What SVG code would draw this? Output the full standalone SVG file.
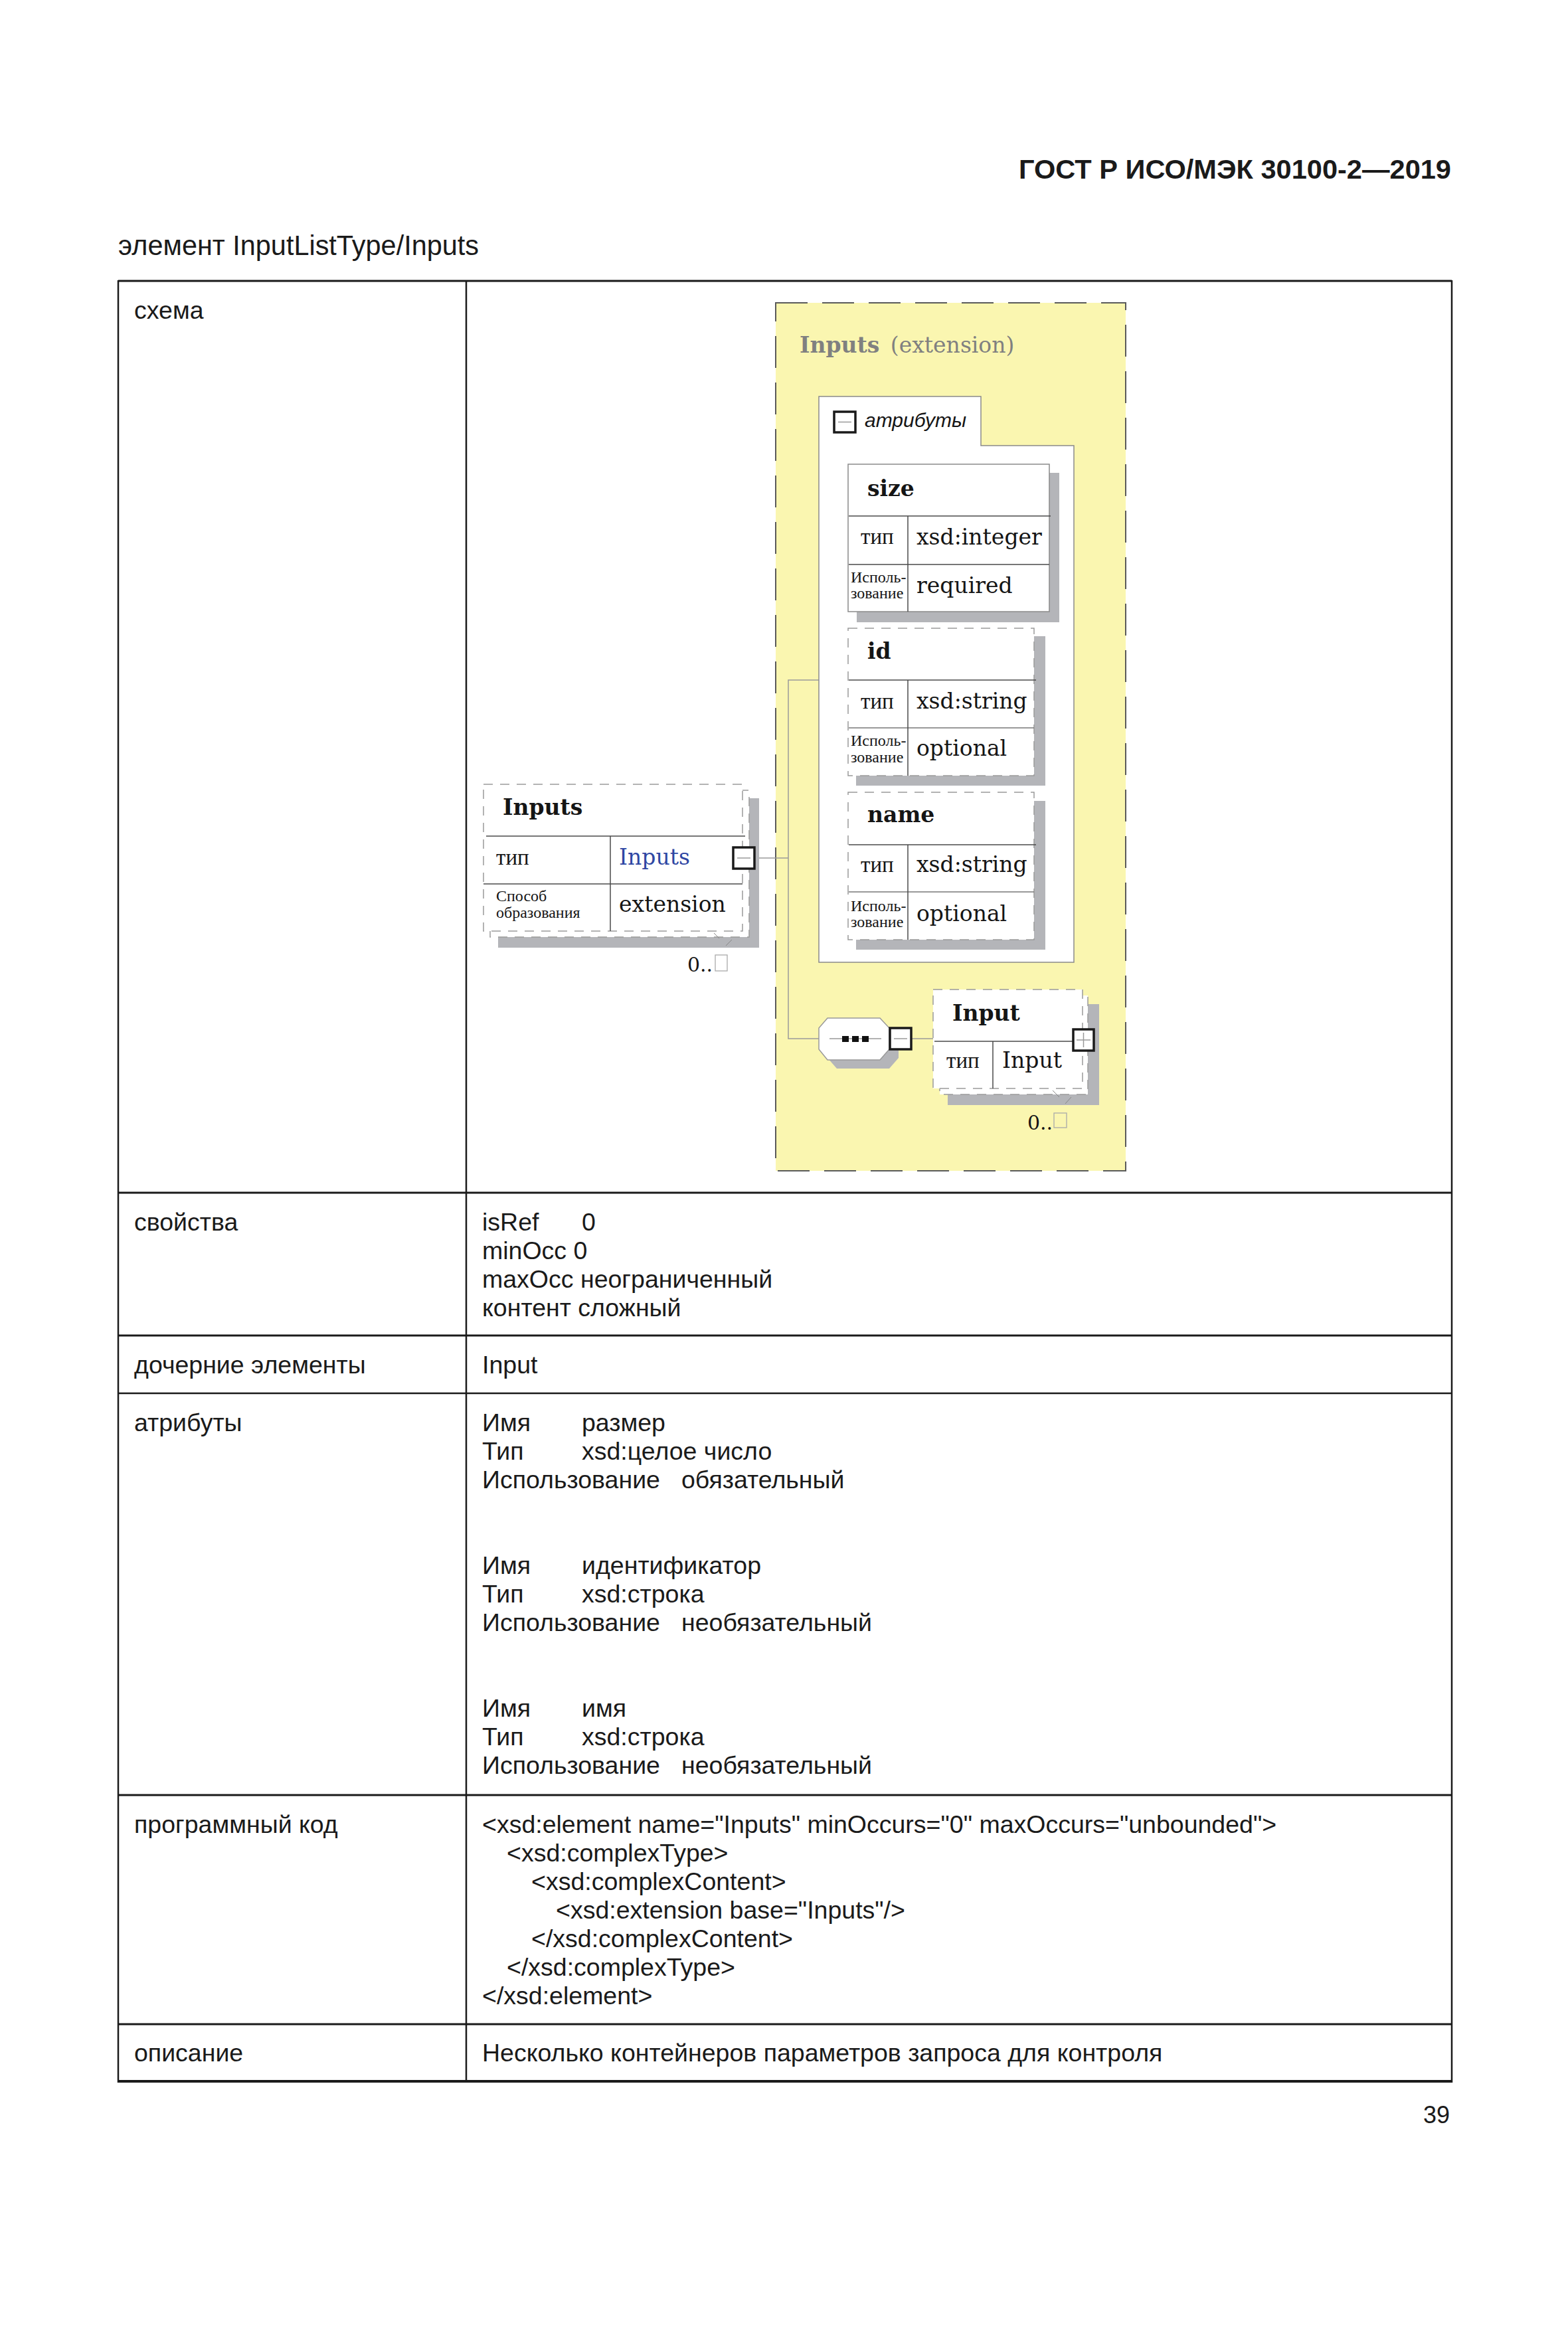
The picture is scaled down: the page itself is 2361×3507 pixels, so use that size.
<svg xmlns="http://www.w3.org/2000/svg" width="2361" height="3507" viewBox="0 0 2361 3507">
<style>
.tb{font-family:"Liberation Sans",Arial,sans-serif;font-size:37.5px;fill:#1a1a1a}
.dl{font-family:"DejaVu Serif","Liberation Serif",serif;font-size:33px;fill:#151515}
.db{font-family:"DejaVu Serif","Liberation Serif",serif;font-size:33px;font-weight:bold;fill:#151515}
.cy{font-family:"Liberation Serif",serif;font-size:33px;fill:#151515}
.cs{font-family:"Liberation Serif",serif;font-size:24px;fill:#151515}
.sh{fill:#b4b5b9}
.dash{fill:#fff;stroke:#9a9a9a;stroke-width:1.5;stroke-dasharray:14 11}
.solid{fill:#fff;stroke:#8a8a8a;stroke-width:1.5}
.div{stroke:#4a4a4a;stroke-width:1.5;fill:none}
.cb{fill:#fff;stroke:#1a1a1a;stroke-width:3.5}
.cbl{stroke:#999;stroke-width:1.5;fill:none}
.con{stroke:#9a9a9a;stroke-width:1.5;fill:none}
.tofu{fill:none;stroke:#aaa;stroke-width:1.3}
.tl{stroke:#1a1a1a;stroke-width:2.5;fill:none}
.mark{stroke:#888;stroke-width:1;fill:none}
.occ{font-family:"DejaVu Serif","Liberation Serif",serif;font-size:30px;fill:#151515}
</style>

<!-- page header -->
<text class="tb" x="1534" y="269" style="font-size:40px;font-weight:bold" textLength="651" lengthAdjust="spacingAndGlyphs">ГОСТ Р ИСО/МЭК 30100-2—2019</text>
<text class="tb" x="178" y="384" style="font-size:42px" textLength="543" lengthAdjust="spacingAndGlyphs">элемент InputListType/Inputs</text>

<!-- table -->
<g id="table">
<line class="tl" x1="178" y1="423" x2="2186" y2="423" style="stroke-width:3"/>
<line class="tl" x1="178" y1="1796" x2="2186" y2="1796" style="stroke-width:3"/>
<line class="tl" x1="178" y1="2011" x2="2186" y2="2011" style="stroke-width:3"/>
<line class="tl" x1="178" y1="2098" x2="2186" y2="2098"/>
<line class="tl" x1="178" y1="2703" x2="2186" y2="2703" style="stroke-width:3"/>
<line class="tl" x1="178" y1="3048" x2="2186" y2="3048" style="stroke-width:3"/>
<line class="tl" x1="178" y1="3134" x2="2186" y2="3134" style="stroke-width:4"/>
<line class="tl" x1="178" y1="422" x2="178" y2="3136"/>
<line class="tl" x1="702" y1="422" x2="702" y2="3136"/>
<line class="tl" x1="2186" y1="422" x2="2186" y2="3136"/>

<text class="tb" x="202" y="480">схема</text>
<text class="tb" x="202" y="1853">свойства</text>
<text class="tb" x="726" y="1853">isRef</text>
<text class="tb" x="876" y="1853">0</text>
<text class="tb" x="726" y="1896">minOcc 0</text>
<text class="tb" x="726" y="1939">maxOcc неограниченный</text>
<text class="tb" x="726" y="1982">контент сложный</text>

<text class="tb" x="202" y="2068">дочерние элементы</text>
<text class="tb" x="726" y="2068">Input</text>

<text class="tb" x="202" y="2155">атрибуты</text>
<text class="tb" x="726" y="2155">Имя</text><text class="tb" x="876" y="2155">размер</text>
<text class="tb" x="726" y="2198">Тип</text><text class="tb" x="876" y="2198">xsd:целое число</text>
<text class="tb" x="726" y="2241">Использование</text><text class="tb" x="1026" y="2241">обязательный</text>
<text class="tb" x="726" y="2370">Имя</text><text class="tb" x="876" y="2370">идентификатор</text>
<text class="tb" x="726" y="2413">Тип</text><text class="tb" x="876" y="2413">xsd:строка</text>
<text class="tb" x="726" y="2456">Использование</text><text class="tb" x="1026" y="2456">необязательный</text>
<text class="tb" x="726" y="2585">Имя</text><text class="tb" x="876" y="2585">имя</text>
<text class="tb" x="726" y="2628">Тип</text><text class="tb" x="876" y="2628">xsd:строка</text>
<text class="tb" x="726" y="2671">Использование</text><text class="tb" x="1026" y="2671">необязательный</text>

<text class="tb" x="202" y="2760">программный код</text>
<text class="tb" x="726" y="2760">&lt;xsd:element name="Inputs" minOccurs="0" maxOccurs="unbounded"&gt;</text>
<text class="tb" x="763" y="2803">&lt;xsd:complexType&gt;</text>
<text class="tb" x="800" y="2846">&lt;xsd:complexContent&gt;</text>
<text class="tb" x="837" y="2889">&lt;xsd:extension base="Inputs"/&gt;</text>
<text class="tb" x="800" y="2932">&lt;/xsd:complexContent&gt;</text>
<text class="tb" x="763" y="2975">&lt;/xsd:complexType&gt;</text>
<text class="tb" x="726" y="3018">&lt;/xsd:element&gt;</text>

<text class="tb" x="202" y="3104">описание</text>
<text class="tb" x="726" y="3104">Несколько контейнеров параметров запроса для контроля</text>
</g>

<text class="tb" x="2183" y="3197" style="font-size:36px" text-anchor="end">39</text>

<!-- schema diagram -->
<g id="extension-container">
<rect x="1168" y="456" width="527" height="1307" fill="#faf6b0" stroke="#5a5a5a" stroke-width="2" stroke-dasharray="48 22"/>
<text x="1204" y="531" font-family="DejaVu Serif, Liberation Serif, serif" font-size="33" fill="#808080"><tspan font-weight="bold">Inputs</tspan><tspan dx="6"> (extension)</tspan></text>
</g>

<g id="connectors">
<polyline class="con" points="1137,1292 1187,1292"/>
<polyline class="con" points="1233,1024 1187,1024 1187,1564 1233,1564"/>
<line class="con" x1="1373" y1="1564" x2="1405" y2="1564"/>
</g>

<g id="attributes-panel">
<path d="M1233,597 H1477 V671 H1617 V1449 H1233 Z" fill="#fff" stroke="#8a8a8a" stroke-width="1.5"/>
<rect class="cb" x="1256" y="620" width="32" height="31"/>
<line class="cbl" x1="1262" y1="635.5" x2="1282" y2="635.5"/>
<text x="1302" y="643" font-family="Liberation Sans, Arial, sans-serif" font-style="italic" font-size="30" fill="#151515">атрибуты</text>
</g>

<g id="attr-size">
<rect class="sh" x="1290" y="712" width="305" height="225"/>
<rect class="solid" x="1277" y="699" width="303" height="222"/>
<line class="div" x1="1278" y1="777" x2="1582" y2="777"/>
<line class="div" x1="1278" y1="850" x2="1580" y2="850"/>
<line class="div" x1="1367" y1="777" x2="1367" y2="921"/>
<text class="db" x="1306" y="747">size</text>
<text class="cy" x="1296" y="819">тип</text>
<text class="dl" x="1380" y="820">xsd:integer</text>
<text class="cs" x="1281" y="877">Исполь-</text>
<text class="cs" x="1281" y="901">зование</text>
<text class="dl" x="1380" y="893">required</text>
</g>

<g id="attr-id">
<rect class="sh" x="1289" y="958" width="285" height="225"/>
<rect class="dash" x="1277" y="946" width="280" height="222"/>
<line class="div" x1="1278" y1="1024" x2="1560" y2="1024"/>
<line class="div" x1="1278" y1="1096" x2="1557" y2="1096" style="stroke:#777"/>
<line class="div" x1="1367" y1="1024" x2="1367" y2="1168"/>
<text class="db" x="1306" y="992">id</text>
<text class="cy" x="1296" y="1067">тип</text>
<text class="dl" x="1380" y="1067">xsd:string</text>
<text class="cs" x="1281" y="1123">Исполь-</text>
<text class="cs" x="1281" y="1148">зование</text>
<text class="dl" x="1380" y="1138">optional</text>
</g>

<g id="attr-name">
<rect class="sh" x="1289" y="1206" width="285" height="224"/>
<rect class="dash" x="1277" y="1193" width="280" height="222"/>
<line class="div" x1="1278" y1="1272" x2="1560" y2="1272"/>
<line class="div" x1="1278" y1="1343" x2="1557" y2="1343" style="stroke:#777"/>
<line class="div" x1="1367" y1="1272" x2="1367" y2="1415"/>
<text class="db" x="1306" y="1238">name</text>
<text class="cy" x="1296" y="1313">тип</text>
<text class="dl" x="1380" y="1313">xsd:string</text>
<text class="cs" x="1281" y="1372">Исполь-</text>
<text class="cs" x="1281" y="1396">зование</text>
<text class="dl" x="1380" y="1387">optional</text>
</g>

<g id="element-Inputs">
<rect class="sh" x="750" y="1202" width="393" height="225"/>
<rect class="dash" x="738" y="1190" width="390" height="221"/>
<rect class="dash" x="728" y="1181" width="390" height="221"/>
<line class="div" x1="732" y1="1259" x2="1122" y2="1259"/>
<line class="div" x1="728" y1="1331" x2="1118" y2="1331"/>
<line class="div" x1="919" y1="1259" x2="919" y2="1402"/>
<text class="db" x="757" y="1227">Inputs</text>
<text class="cy" x="747" y="1302">тип</text>
<text class="dl" x="932" y="1302" style="fill:#2f47a3">Inputs</text>
<text class="cs" x="747" y="1357">Способ</text>
<text class="cs" x="747" y="1382">образования</text>
<text class="dl" x="932" y="1373">extension</text>
<rect class="cb" x="1104" y="1276" width="32" height="32"/>
<line class="cbl" x1="1110" y1="1292" x2="1130" y2="1292"/>
<line class="mark" x1="1075" y1="1405" x2="1083" y2="1413"/>
<line class="mark" x1="1102" y1="1415" x2="1093" y2="1424"/>
<text class="occ" x="1035" y="1463">0..</text>
<rect class="tofu" x="1077" y="1438" width="18" height="24"/>
</g>

<g id="sequence">
<polygon class="sh" points="1260,1546 1339,1546 1353,1561 1353,1593 1339,1609 1260,1609 1246,1593 1246,1561"/>
<polygon points="1246,1533 1325,1533 1339,1548 1339,1580 1325,1596 1246,1596 1233,1580 1233,1548" fill="#fff" stroke="#999" stroke-width="1.5"/>
<line class="cbl" x1="1249" y1="1564" x2="1327" y2="1564"/>
<rect x="1268" y="1560" width="10" height="9" fill="#111"/>
<rect x="1283" y="1560" width="10" height="9" fill="#111"/>
<rect x="1298" y="1560" width="10" height="9" fill="#111"/>
<rect class="cb" x="1340" y="1548" width="32" height="32"/>
<line class="cbl" x1="1346" y1="1564" x2="1366" y2="1564"/>
</g>

<g id="element-Input">
<rect class="sh" x="1427" y="1512" width="228" height="152"/>
<rect class="dash" x="1415" y="1499" width="223" height="149"/>
<rect class="dash" x="1405" y="1490" width="225" height="149"/>
<line class="div" x1="1407" y1="1568" x2="1616" y2="1568"/>
<line class="div" x1="1495" y1="1568" x2="1495" y2="1639"/>
<text class="db" x="1434" y="1537">Input</text>
<text class="cy" x="1425" y="1608">тип</text>
<text class="dl" x="1509" y="1608">Input</text>
<rect class="cb" x="1616" y="1550" width="31" height="32"/>
<line class="cbl" x1="1621" y1="1566" x2="1642" y2="1566"/>
<line class="cbl" x1="1631.5" y1="1555" x2="1631.5" y2="1577"/>
<line class="mark" x1="1585" y1="1642" x2="1595" y2="1652"/>
<line class="mark" x1="1613" y1="1652" x2="1604" y2="1662"/>
<text class="occ" x="1547" y="1701">0..</text>
<rect class="tofu" x="1587" y="1676" width="19" height="22"/>
</g>
</svg>
